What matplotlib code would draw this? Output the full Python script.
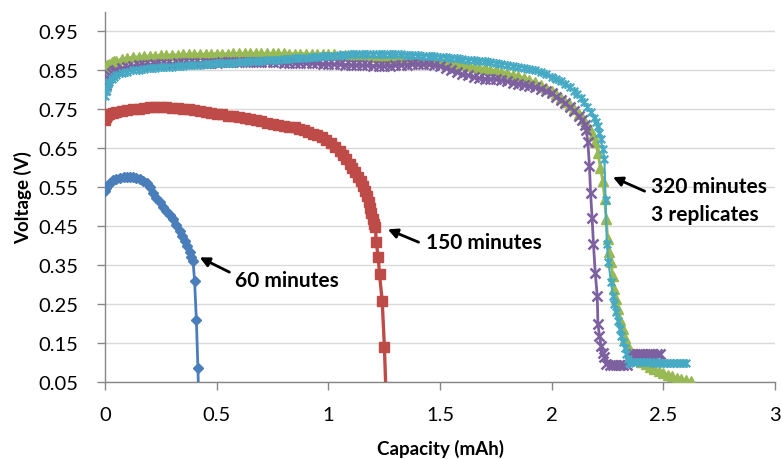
import matplotlib
matplotlib.use("Agg")
import matplotlib.pyplot as plt
from matplotlib.path import Path

plt.rcParams['font.family'] = ['Lato', 'DejaVu Sans']

# ---------------- data ----------------
x_60 = [0.000, 0.006, 0.012, 0.022, 0.035, 0.050, 0.067, 0.085, 0.100, 0.111, 0.125,
        0.140, 0.156, 0.170, 0.186, 0.200, 0.215, 0.230, 0.245, 0.260, 0.275, 0.290,
        0.305, 0.320, 0.334, 0.346, 0.357, 0.368, 0.379, 0.387, 0.394, 0.401, 0.409,
        0.416, 0.420]
v_60 = [0.540, 0.548, 0.555, 0.562, 0.568, 0.572, 0.575, 0.577, 0.577, 0.577, 0.576,
        0.574, 0.571, 0.567, 0.561, 0.550, 0.536, 0.523, 0.511, 0.500, 0.489, 0.479,
        0.468, 0.454, 0.438, 0.425, 0.412, 0.398, 0.383, 0.372, 0.361, 0.310, 0.209,
        0.085, -0.010]

x_150 = [0.000, 0.004, 0.010, 0.020, 0.035, 0.050, 0.075, 0.100, 0.125, 0.150, 0.175,
         0.200, 0.225, 0.250, 0.275, 0.300, 0.325, 0.350, 0.375, 0.400, 0.425, 0.450,
         0.475, 0.500, 0.525, 0.550, 0.575, 0.600, 0.625, 0.650, 0.675, 0.700, 0.725,
         0.750, 0.775, 0.800, 0.825, 0.850, 0.870, 0.890, 0.910, 0.930, 0.950, 0.970,
         0.990, 1.010, 1.030, 1.050, 1.065, 1.080, 1.095, 1.107, 1.120, 1.132, 1.144,
         1.155, 1.165, 1.174, 1.182, 1.188, 1.193, 1.200, 1.206, 1.211, 1.214, 1.223,
         1.229, 1.241, 1.251, 1.258]
v_150 = [0.722, 0.730, 0.735, 0.737, 0.740, 0.742, 0.745, 0.748, 0.750, 0.752, 0.754,
         0.755, 0.755, 0.755, 0.755, 0.754, 0.754, 0.752, 0.750, 0.748, 0.745, 0.743,
         0.741, 0.739, 0.737, 0.734, 0.732, 0.730, 0.728, 0.725, 0.722, 0.719, 0.716,
         0.713, 0.711, 0.708, 0.706, 0.704, 0.700, 0.696, 0.692, 0.688, 0.684, 0.678,
         0.671, 0.663, 0.653, 0.643, 0.633, 0.622, 0.610, 0.600, 0.588, 0.577, 0.566,
         0.553, 0.541, 0.528, 0.512, 0.498, 0.485, 0.468, 0.455, 0.447, 0.410, 0.372,
         0.327, 0.258, 0.139, 0.020]

x_320a = [0.000, 0.010, 0.020, 0.030, 0.040, 0.050, 0.075, 0.100, 0.125, 0.150, 0.175,
          0.200, 0.225, 0.250, 0.275, 0.300, 0.325, 0.350, 0.375, 0.400, 0.425, 0.450,
          0.475, 0.500, 0.525, 0.550, 0.575, 0.600, 0.625, 0.650, 0.675, 0.700, 0.725,
          0.750, 0.775, 0.800, 0.825, 0.850, 0.875, 0.900, 0.925, 0.950, 0.975, 1.000,
          1.025, 1.050, 1.075, 1.100, 1.125, 1.150, 1.175, 1.200, 1.225, 1.250, 1.275,
          1.300, 1.325, 1.350, 1.375, 1.400, 1.425, 1.450, 1.475, 1.500, 1.525, 1.550,
          1.575, 1.600, 1.625, 1.650, 1.675, 1.700, 1.725, 1.750, 1.775, 1.800, 1.825,
          1.850, 1.875, 1.900, 1.925, 1.950, 1.975, 2.000, 2.020, 2.040, 2.060, 2.080,
          2.100, 2.120, 2.140, 2.155, 2.170, 2.183, 2.195, 2.207, 2.218, 2.229, 2.237,
          2.244, 2.251, 2.258, 2.266, 2.273, 2.281, 2.288, 2.296, 2.307, 2.318, 2.330,
          2.341, 2.355, 2.370, 2.385, 2.400, 2.420, 2.440, 2.460, 2.480, 2.500, 2.520,
          2.540, 2.560, 2.580, 2.600, 2.623]
v_320a = [0.857, 0.863, 0.867, 0.871, 0.873, 0.875, 0.879, 0.882, 0.884, 0.885, 0.886,
          0.887, 0.888, 0.889, 0.889, 0.890, 0.890, 0.891, 0.891, 0.892, 0.892, 0.892,
          0.893, 0.893, 0.893, 0.893, 0.894, 0.894, 0.894, 0.894, 0.894, 0.894, 0.894,
          0.894, 0.894, 0.894, 0.893, 0.893, 0.893, 0.893, 0.892, 0.892, 0.892, 0.891,
          0.891, 0.890, 0.890, 0.889, 0.888, 0.887, 0.886, 0.885, 0.884, 0.883, 0.882,
          0.881, 0.880, 0.879, 0.878, 0.877, 0.875, 0.874, 0.873, 0.872, 0.870, 0.868,
          0.866, 0.864, 0.862, 0.860, 0.857, 0.855, 0.852, 0.850, 0.847, 0.843, 0.839,
          0.835, 0.831, 0.826, 0.820, 0.813, 0.805, 0.797, 0.789, 0.780, 0.770, 0.760,
          0.750, 0.738, 0.725, 0.712, 0.700, 0.683, 0.665, 0.639, 0.600, 0.566, 0.520,
          0.468, 0.417, 0.385, 0.357, 0.322, 0.288, 0.262, 0.237, 0.210, 0.186, 0.163,
          0.143, 0.128, 0.117, 0.109, 0.102, 0.095, 0.089, 0.083, 0.078, 0.073, 0.069,
          0.065, 0.061, 0.058, 0.055, 0.052]

x_320b = [0.000, 0.004, 0.008, 0.013, 0.020, 0.030, 0.040, 0.050, 0.075, 0.100, 0.125,
          0.150, 0.175, 0.200, 0.225, 0.250, 0.275, 0.300, 0.325, 0.350, 0.375, 0.400,
          0.425, 0.450, 0.475, 0.500, 0.525, 0.550, 0.575, 0.600, 0.625, 0.650, 0.675,
          0.700, 0.725, 0.750, 0.775, 0.800, 0.825, 0.850, 0.875, 0.900, 0.925, 0.950,
          0.975, 1.000, 1.025, 1.050, 1.075, 1.100, 1.125, 1.150, 1.175, 1.200, 1.225,
          1.250, 1.275, 1.300, 1.325, 1.350, 1.375, 1.400, 1.425, 1.450, 1.475, 1.500,
          1.525, 1.550, 1.575, 1.600, 1.625, 1.650, 1.675, 1.700, 1.725, 1.750, 1.775,
          1.800, 1.825, 1.850, 1.875, 1.900, 1.925, 1.950, 1.975, 2.000, 2.020, 2.040,
          2.060, 2.080, 2.100, 2.120, 2.135, 2.148, 2.155, 2.162, 2.169, 2.174, 2.181,
          2.187, 2.195, 2.204, 2.207, 2.214, 2.221, 2.229, 2.236, 2.244, 2.260, 2.275,
          2.290, 2.305, 2.320, 2.335, 2.350, 2.365, 2.380, 2.395, 2.410, 2.425, 2.440,
          2.455, 2.470, 2.485]
v_320b = [0.800, 0.812, 0.822, 0.830, 0.837, 0.843, 0.848, 0.851, 0.856, 0.859, 0.861,
          0.863, 0.864, 0.865, 0.866, 0.866, 0.867, 0.867, 0.868, 0.868, 0.869, 0.869,
          0.869, 0.870, 0.870, 0.870, 0.871, 0.871, 0.871, 0.871, 0.871, 0.871, 0.871,
          0.871, 0.871, 0.871, 0.871, 0.870, 0.870, 0.870, 0.869, 0.869, 0.868, 0.868,
          0.867, 0.867, 0.866, 0.866, 0.865, 0.864, 0.864, 0.863, 0.863, 0.862, 0.862,
          0.862, 0.862, 0.863, 0.864, 0.865, 0.866, 0.867, 0.867, 0.866, 0.864, 0.861,
          0.856, 0.851, 0.846, 0.841, 0.837, 0.833, 0.830, 0.829, 0.828, 0.827, 0.825,
          0.822, 0.819, 0.816, 0.813, 0.810, 0.807, 0.803, 0.797, 0.791, 0.783, 0.775,
          0.767, 0.757, 0.746, 0.733, 0.722, 0.710, 0.698, 0.665, 0.605, 0.536, 0.470,
          0.404, 0.330, 0.271, 0.199, 0.169, 0.143, 0.125, 0.113, 0.096, 0.094, 0.093,
          0.093, 0.093, 0.094, 0.094, 0.121, 0.122, 0.121, 0.122, 0.121, 0.122, 0.121,
          0.122, 0.121, 0.122]

x_320c = [0.000, 0.004, 0.008, 0.013, 0.020, 0.030, 0.040, 0.050, 0.075, 0.100, 0.125,
          0.150, 0.175, 0.200, 0.225, 0.250, 0.275, 0.300, 0.325, 0.350, 0.375, 0.400,
          0.425, 0.450, 0.475, 0.500, 0.525, 0.550, 0.575, 0.600, 0.625, 0.650, 0.675,
          0.700, 0.725, 0.750, 0.775, 0.800, 0.825, 0.850, 0.875, 0.900, 0.925, 0.950,
          0.975, 1.000, 1.025, 1.050, 1.075, 1.100, 1.125, 1.150, 1.175, 1.200, 1.225,
          1.250, 1.275, 1.300, 1.325, 1.350, 1.375, 1.400, 1.425, 1.450, 1.475, 1.500,
          1.525, 1.550, 1.575, 1.600, 1.625, 1.650, 1.675, 1.700, 1.725, 1.750, 1.775,
          1.800, 1.825, 1.850, 1.875, 1.900, 1.925, 1.950, 1.975, 2.000, 2.020, 2.040,
          2.060, 2.080, 2.100, 2.115, 2.130, 2.145, 2.160, 2.175, 2.190, 2.200, 2.207,
          2.214, 2.220, 2.228, 2.236, 2.241, 2.247, 2.254, 2.266, 2.274, 2.281, 2.288,
          2.296, 2.304, 2.311, 2.318, 2.326, 2.333, 2.340, 2.348, 2.365, 2.380, 2.395,
          2.410, 2.425, 2.440, 2.455, 2.470, 2.485, 2.500, 2.515, 2.530, 2.545, 2.560,
          2.575, 2.590, 2.600]
v_320c = [0.785, 0.797, 0.806, 0.814, 0.821, 0.828, 0.833, 0.837, 0.843, 0.847, 0.850,
          0.852, 0.854, 0.856, 0.857, 0.858, 0.859, 0.860, 0.861, 0.862, 0.863, 0.864,
          0.865, 0.866, 0.867, 0.868, 0.869, 0.869, 0.870, 0.871, 0.872, 0.873, 0.874,
          0.875, 0.876, 0.877, 0.878, 0.879, 0.880, 0.881, 0.882, 0.883, 0.884, 0.885,
          0.886, 0.887, 0.888, 0.889, 0.890, 0.891, 0.892, 0.893, 0.893, 0.893, 0.893,
          0.892, 0.892, 0.891, 0.891, 0.890, 0.890, 0.889, 0.888, 0.887, 0.886, 0.885,
          0.884, 0.882, 0.881, 0.879, 0.878, 0.876, 0.874, 0.873, 0.871, 0.870, 0.867,
          0.865, 0.862, 0.860, 0.857, 0.854, 0.850, 0.845, 0.840, 0.834, 0.829, 0.823,
          0.816, 0.808, 0.798, 0.790, 0.780, 0.768, 0.756, 0.743, 0.728, 0.718, 0.707,
          0.690, 0.673, 0.648, 0.622, 0.517, 0.404, 0.357, 0.306, 0.271, 0.250, 0.229,
          0.207, 0.186, 0.169, 0.152, 0.137, 0.122, 0.110, 0.100, 0.102, 0.102, 0.101,
          0.102, 0.101, 0.101, 0.100, 0.101, 0.100, 0.100, 0.100, 0.099, 0.100, 0.099,
          0.099, 0.099, 0.099]

x_ticks = [0, 0.5, 1, 1.5, 2, 2.5, 3]
x_ticklabels = ["0", "0.5", "1", "1.5", "2", "2.5", "3"]
y_ticks = [0.05, 0.15, 0.25, 0.35, 0.45, 0.55, 0.65, 0.75, 0.85, 0.95]
y_ticklabels = ["0.05", "0.15", "0.25", "0.35", "0.45", "0.55", "0.65", "0.75", "0.85", "0.95"]

# ---------------- styles ----------------
BLUE, RED, GREEN, PURPLE, CYAN = "#4A7EBB", "#BE4B48", "#98B954", "#7D60A0", "#46AAC5"

star = Path([(-1, -1), (1, 1), (-1, 1), (1, -1), (0, -1.2), (0, 1.2)],
            [Path.MOVETO, Path.LINETO, Path.MOVETO, Path.LINETO, Path.MOVETO, Path.LINETO])

fig = plt.figure(figsize=(7.82, 4.6), dpi=100)
ax = fig.add_axes([0.1343, 0.1674, 0.8568, 0.8043])

ax.plot(x_60, v_60, color=BLUE, lw=2.0, marker='D', ms=5.5, mec=BLUE, mfc=BLUE, clip_on=True, zorder=3)
ax.plot(x_150, v_150, color=RED, lw=2.4, marker='s', ms=7.0, mec=RED, mfc=RED, clip_on=True, zorder=3)
ax.plot(x_320a, v_320a, color=GREEN, lw=2.0, marker='^', ms=6.5, mec=GREEN, mfc=GREEN, clip_on=True, zorder=3)
ax.plot(x_320b, v_320b, color=PURPLE, lw=2.0, marker='x', ms=7.0, mew=1.8, mec=PURPLE, clip_on=True, zorder=3)
ax.plot(x_320c, v_320c, color=CYAN, lw=1.5, marker=star, ms=6.5, mew=1.6, mec=CYAN, mfc='none', clip_on=True, zorder=3)

ax.set_xlim(0, 3)
ax.set_ylim(0.05, 1.0)
ax.set_xticks(x_ticks)
ax.set_xticklabels(x_ticklabels)
ax.set_yticks(y_ticks)
ax.set_yticklabels(y_ticklabels)

ax.grid(axis='y', color='#D9D9D9', lw=1.0)
ax.set_axisbelow(True)
for s in ('top', 'right'):
    ax.spines[s].set_visible(False)
for s in ('left', 'bottom'):
    ax.spines[s].set_color('#868686')
    ax.spines[s].set_linewidth(1.0)
ax.tick_params(axis='both', direction='out', length=6, width=1.0, color='#868686',
               labelsize=14.5, labelcolor='#000000')
ax.tick_params(axis='y', pad=13)
ax.tick_params(axis='x', pad=11)

ax.set_xlabel("Capacity (mAh)", fontsize=13.5, fontweight='bold', labelpad=12)
ax.set_ylabel("Voltage (V)", fontsize=13.5, fontweight='bold', labelpad=5)

arrow = dict(arrowstyle='-|>', color='black', lw=2.0, mutation_scale=14, shrinkA=0, shrinkB=0)
ax.annotate("", xy=(0.424, 0.370), xytext=(0.557, 0.332), arrowprops=arrow)
ax.text(0.584, 0.311, "60 minutes", fontsize=15, fontweight='bold', va='center', ha='left')
ax.annotate("", xy=(1.266, 0.442), xytext=(1.404, 0.409), arrowprops=arrow)
ax.text(1.436, 0.409, "150 minutes", fontsize=15, fontweight='bold', va='center', ha='left')
ax.annotate("", xy=(2.274, 0.576), xytext=(2.416, 0.540), arrowprops=arrow)
ax.text(2.443, 0.553, "320 minutes", fontsize=15, fontweight='bold', va='center', ha='left')
ax.text(2.443, 0.481, "3 replicates", fontsize=15, fontweight='bold', va='center', ha='left')

fig.savefig("out.png", dpi=100)
